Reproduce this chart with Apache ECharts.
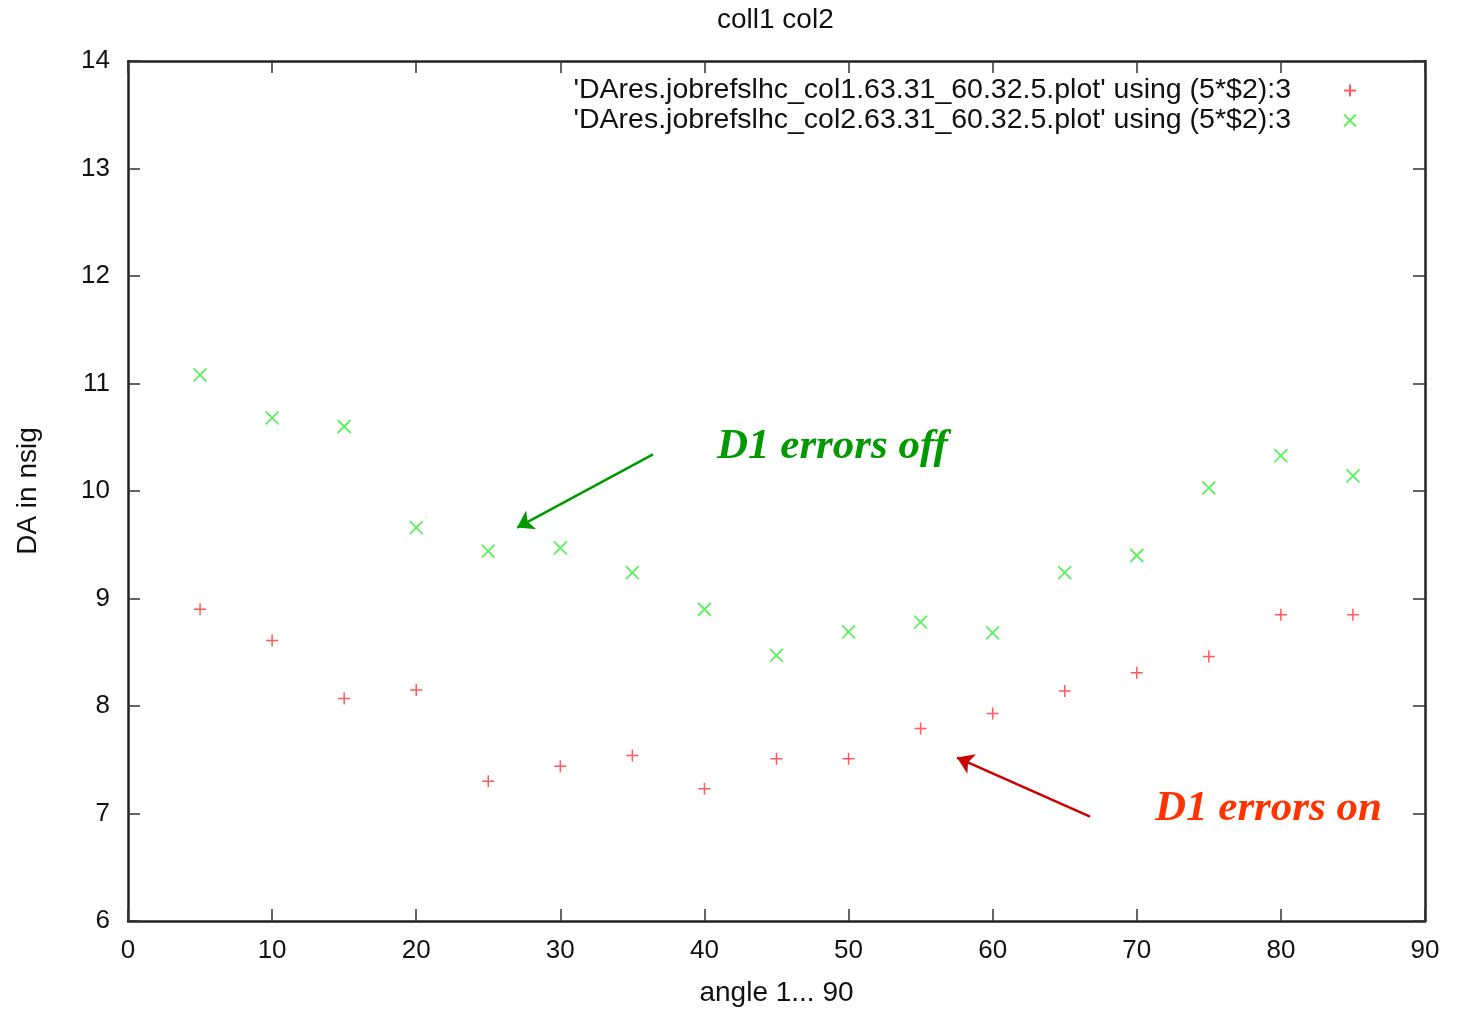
<!DOCTYPE html>
<html>
<head>
<meta charset="utf-8">
<script src="https://cdn.jsdelivr.net/npm/echarts@6/dist/echarts.min.js"></script>
<style>
  html, body { margin: 0; padding: 0; background: #fff; }
  #chart { width: 1459px; height: 1010px; }
</style>
</head>
<body>
<div id="chart"></div>
<script>
  // angles (5*$2)
  const angles = [5, 10, 15, 20, 25, 30, 35, 40, 45, 50, 55, 60, 65, 70, 75, 80, 85];
  // col1 : D1 errors on
  const col1 = [8.90, 8.61, 8.07, 8.15, 7.30, 7.44, 7.54, 7.23, 7.51, 7.51, 7.79, 7.93, 8.14, 8.31, 8.46, 8.85, 8.85];
  // col2 : D1 errors off
  const col2 = [11.08, 10.68, 10.60, 9.66, 9.44, 9.47, 9.24, 8.90, 8.47, 8.69, 8.78, 8.68, 9.24, 9.40, 10.03, 10.33, 10.14];

  const name1 = "'DAres.jobrefslhc_col1.63.31_60.32.5.plot' using (5*$2):3";
  const name2 = "'DAres.jobrefslhc_col2.63.31_60.32.5.plot' using (5*$2):3";

  const plusPath = 'path://M0,5L10,5M5,0L5,10';
  const crossPath = 'path://M0,0L10,10M0,10L10,0';
  const font = '"Liberation Sans", Arial, sans-serif';
  const axisColor = '#222';

  const myChart = echarts.init(document.getElementById('chart'));

  // gnuplot style frame: ticks pointing into the plot on all four sides
  function makeAxis(extra) {
    return Object.assign({
      axisLine: { show: true, onZero: false, lineStyle: { color: axisColor, width: 2.5 } },
      axisTick: { show: true, inside: true, length: 12, lineStyle: { color: '#333', width: 1.5 } },
      splitLine: { show: false }
    }, extra);
  }

  let option = {
    animation: false,
    backgroundColor: '#fff',
    title: {
      text: 'coll1 col2',
      left: 712,
      top: 1,
      textStyle: { fontFamily: font, fontSize: 28, fontWeight: 'normal', color: '#111' }
    },
    legend: {
      orient: 'vertical',
      right: 97,
      top: 71,
      align: 'right',
      itemWidth: 12,
      itemHeight: 12,
      itemGap: 1,
      textStyle: { fontFamily: font, fontSize: 28.5, color: '#111', lineHeight: 25, padding: [0, 48, 0, 0] },
      data: [name1, name2]
    },
    grid: { left: 128, right: 34, top: 61, bottom: 89, outerBoundsMode: 'none' },
    xAxis: [
      makeAxis({
        type: 'value', min: 0, max: 90, interval: 10,
        name: 'angle 1... 90', nameLocation: 'middle', nameGap: 58,
        nameTextStyle: { fontFamily: font, fontSize: 28, color: '#111' },
        axisLabel: { fontFamily: font, fontSize: 26, color: '#111', margin: 17 }
      }),
      makeAxis({
        type: 'value', min: 0, max: 90, interval: 10, position: 'top',
        axisLabel: { show: false }
      })
    ],
    yAxis: [
      makeAxis({
        type: 'value', min: 6, max: 14, interval: 1, position: 'left',
        name: 'DA in nsig', nameLocation: 'middle', nameGap: 86,
        nameTextStyle: { fontFamily: font, fontSize: 28, color: '#111' },
        axisLabel: { fontFamily: font, fontSize: 26, color: '#111', margin: 18 }
      }),
      makeAxis({
        type: 'value', min: 6, max: 14, interval: 1, position: 'right',
        axisLabel: { show: false }
      })
    ],
    series: [
      {
        name: name1,
        type: 'scatter',
        symbol: plusPath,
        symbolSize: 12,
        itemStyle: { color: 'rgba(0,0,0,0)', borderColor: '#ff3030', borderWidth: 1.5 },
        data: angles.map((a, i) => [a, col1[i]]),
        markLine: {
          silent: true,
          symbolSize: 16,
          label: { show: false },
          lineStyle: { color: '#cc0000', width: 2.5, type: 'solid' },
          data: [[
            { coord: [66.76, 6.97], symbol: 'none' },
            { coord: [57.53, 7.52], symbol: 'arrow' }
          ]]
        }
      },
      {
        name: name2,
        type: 'scatter',
        symbol: crossPath,
        symbolSize: 13,
        itemStyle: { color: 'rgba(0,0,0,0)', borderColor: '#33ee33', borderWidth: 1.8 },
        data: angles.map((a, i) => [a, col2[i]]),
        markLine: {
          silent: true,
          symbolSize: 16,
          label: { show: false },
          lineStyle: { color: '#009900', width: 2.5, type: 'solid' },
          data: [[
            { coord: [36.43, 10.34], symbol: 'none' },
            { coord: [27.0, 9.66], symbol: 'arrow' }
          ]]
        }
      }
    ],
    graphic: [
      {
        type: 'text', left: 717, top: 425,
        style: {
          text: 'D1 errors off',
          font: 'italic bold 43px "Liberation Serif", "Times New Roman", serif',
          fill: '#009900'
        }
      },
      {
        type: 'text', left: 1155, top: 787,
        style: {
          text: 'D1 errors on',
          font: 'italic bold 43px "Liberation Serif", "Times New Roman", serif',
          fill: '#ff3300'
        }
      }
    ]
  };

  myChart.setOption(option);
</script>
</body>
</html>
